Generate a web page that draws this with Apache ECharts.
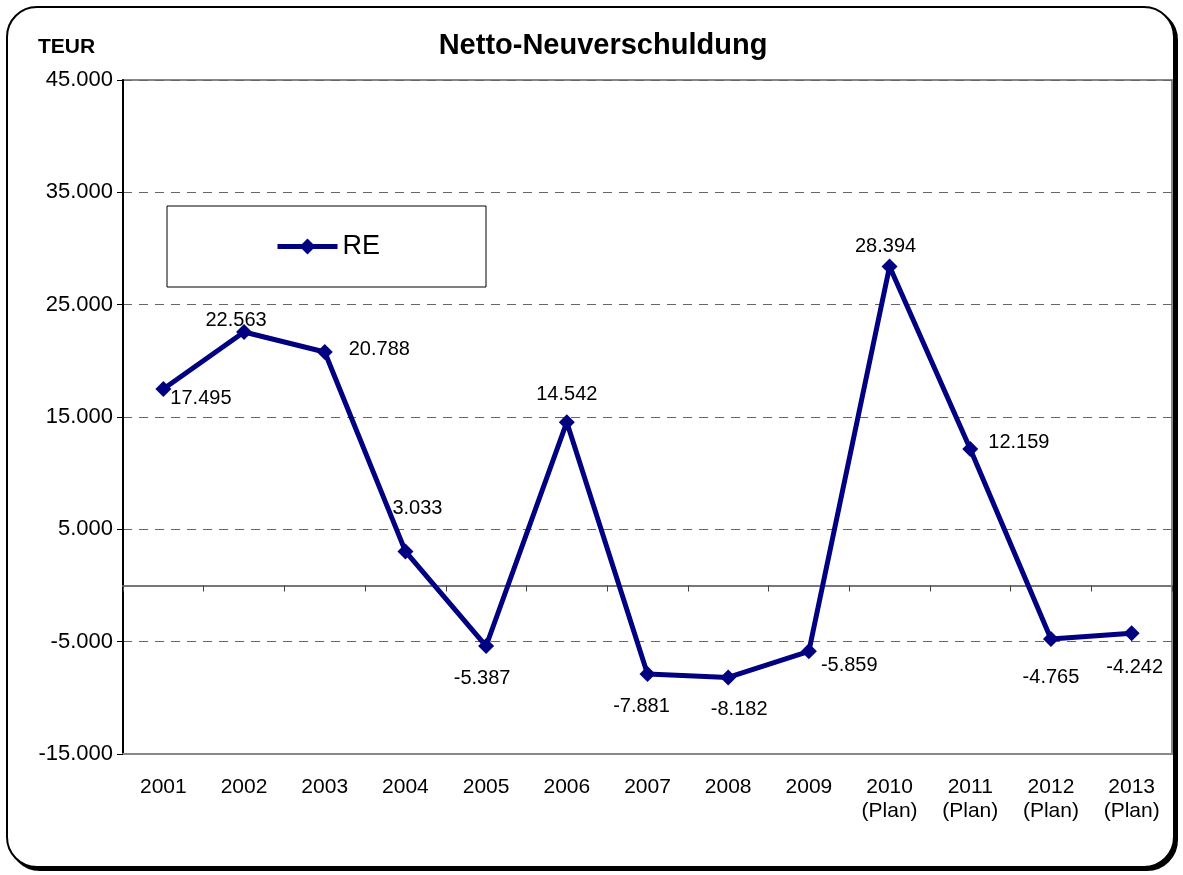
<!DOCTYPE html>
<html><head><meta charset="utf-8">
<script src="https://cdn.jsdelivr.net/npm/echarts@6/dist/echarts.min.js"></script>
<style>html,body{margin:0;padding:0;background:#fff}#c{width:1183px;height:875px}</style>
</head><body><div id="c"></div>
<script>
const categories = ['2001','2002','2003','2004','2005','2006','2007','2008','2009','2010\n(Plan)','2011\n(Plan)','2012\n(Plan)','2013\n(Plan)'];
const values = [17495, 22563, 20788, 3033, -5387, 14542, -7881, -8182, -5859, 28394, 12159, -4765, -4242];
const seriesName = 'RE';
const yTicks = {min: -15000, max: 45000, interval: 10000};

function fmt(v){
  const s = Math.abs(v).toString().replace(/\B(?=(\d{3})+(?!\d))/g, '.');
  return (v < 0 ? '-' : '') + s;
}
// label placement per point (position, distance, offset)
const labelStyles = [
  {position: 'right', distance: 4, offset: [-5, 10]},
  {position: 'top', distance: 6, offset: [-8, 12]},
  {position: 'right', distance: 16, offset: [0, -2]},
  {position: 'top', distance: 22, offset: [12, -3]},
  {position: 'bottom', distance: 14, offset: [-4, 0]},
  {position: 'top', distance: 6, offset: [0, -4]},
  {position: 'bottom', distance: 14, offset: [-6, 0]},
  {position: 'bottom', distance: 14, offset: [11, 0]},
  {position: 'right', distance: 4, offset: [0, 14]},
  {position: 'top', distance: 6, offset: [-4, 4]},
  {position: 'right', distance: 10, offset: [0, -6]},
  {position: 'bottom', distance: 14, offset: [0, 6]},
  {position: 'bottom', distance: 14, offset: [3, 2]}
];
const data = values.map((v, i) => ({value: v, label: labelStyles[i]}));

const chart = echarts.init(document.getElementById('c'));
const font = 'Liberation Sans, Arial, sans-serif';
chart.setOption({
  animation: false,
  textStyle: {fontFamily: font},
  graphic: {elements: [{
    type: 'rect', z: -101, silent: true,
    shape: {x: 10, y: 10, width: 1167, height: 860, r: 30},
    style: {fill: '#000', stroke: '#000', lineWidth: 2}
  }, {
    type: 'rect', z: -100, silent: true,
    shape: {x: 7, y: 7, width: 1167, height: 860, r: 30},
    style: {fill: '#fff', stroke: '#000', lineWidth: 2}
  }, {
    type: 'text', left: 38, top: 37,
    style: {text: 'TEUR', font: 'bold 21px ' + font, fill: '#000'}
  }]},
  title: {text: 'Netto-Neuverschuldung', left: 598, top: 26, textAlign: 'center',
    textStyle: {fontSize: 29, fontWeight: 'bold', color: '#000', fontFamily: font}},
  legend: {
    left: 167, top: 206, orient: 'horizontal',
    borderColor: '#000', borderWidth: 1, padding: [27, 106, 27, 108],
    itemWidth: 60, itemHeight: 20, itemGap: 0,
    lineStyle: {width: 5, color: '#000080'},
    itemStyle: {color: '#000080'},
    textStyle: {fontSize: 27, color: '#000', fontFamily: font, padding: [2, 0, 0, 0]}
  },
  grid: {left: 123, right: 11, top: 80, bottom: 121, show: true, borderColor: '#888', borderWidth: 2, containLabel: false},
  xAxis: [{
    type: 'category', data: categories, position: 'bottom',
    axisLine: {onZero: false, lineStyle: {color: '#888', width: 2}},
    axisTick: {show: false},
    axisLabel: {fontSize: 21, color: '#000', margin: 21, lineHeight: 24, fontFamily: font}
  }, {
    type: 'category', data: categories, position: 'bottom',
    axisLine: {onZero: true, lineStyle: {color: '#777', width: 2}},
    axisTick: {show: true, inside: false, length: 6, lineStyle: {color: '#444', width: 1}},
    axisLabel: {show: false}
  }],
  yAxis: {
    type: 'value', min: yTicks.min, max: yTicks.max, interval: yTicks.interval,
    axisLine: {show: true, lineStyle: {color: '#000', width: 2}},
    axisTick: {show: true, length: 6, lineStyle: {color: '#000'}},
    axisLabel: {fontSize: 22, color: '#000', margin: 10, formatter: fmt, fontFamily: font},
    splitLine: {show: true, lineStyle: {color: '#666', type: [9, 7], width: 1}}
  },
  series: [{
    name: seriesName, type: 'line', data: data, xAxisIndex: 0,
    symbol: 'diamond', symbolSize: 16,
    lineStyle: {color: '#000080', width: 5},
    itemStyle: {color: '#000080'},
    label: {show: true, fontSize: 20, color: '#000', formatter: p => fmt(p.value), fontFamily: font}
  }, {
    type: 'line', xAxisIndex: 1, data: [], silent: true
  }]
});
</script></body></html>
